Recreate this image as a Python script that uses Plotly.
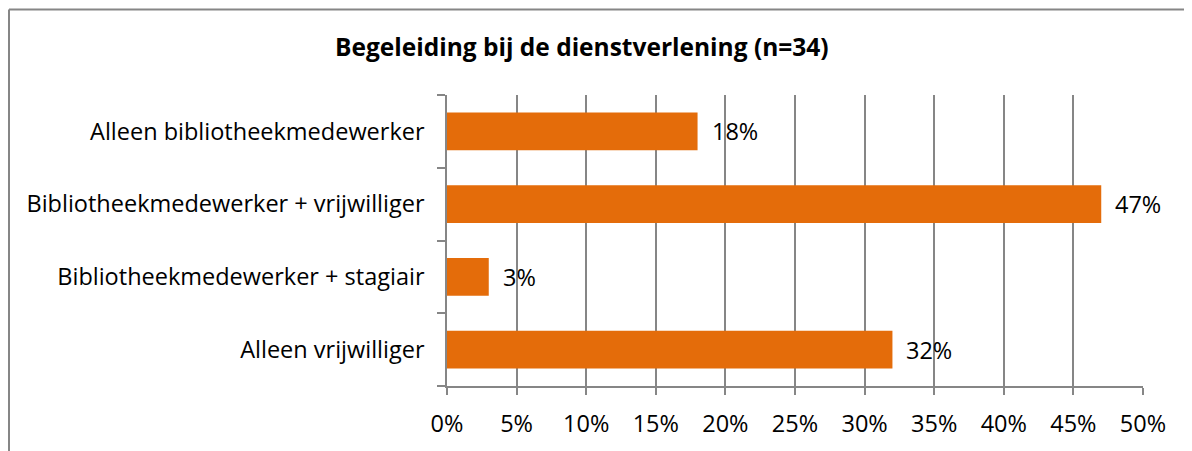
import plotly.graph_objects as go

categories = ["Alleen bibliotheekmedewerker", "Bibliotheekmedewerker + vrijwilliger",
              "Bibliotheekmedewerker + stagiair", "Alleen vrijwilliger"]
values = [18, 47, 3, 32]
labels = ["18%", "47%", "3%", "32%"]
title = "Begeleiding bij de dienstverlening (n=34)"
x_ticks = list(range(0, 51, 5))
x_tick_labels = [f"{t}%" for t in x_ticks]

OFF = 8  # page body margin
W, H = 1192 - OFF, 451 - OFF
L, T = 447 - OFF, 95 - OFF
R = W - (1143 - OFF)
B = H - (388 - OFF)
PW, PH = W - L - R, H - T - B

def px(x):
    return (x - OFF - L) / PW

def py(y):
    return (H - B - (y - OFF)) / PH

FONT = "'Open Sans', sans-serif"
GRID = "#868686"
FS = 23.5

fig = go.Figure(go.Bar(
    y=categories, x=values, orientation="h",
    marker=dict(color="#E46C0A", line=dict(width=0)),
    width=0.52, hoverinfo="skip",
))

for c, v, t in zip(categories, values, labels):
    fig.add_annotation(x=v, y=c, text=t, showarrow=False, xanchor="left",
                       xshift=12, font=dict(family=FONT, size=FS, color="#000"))

fig.add_annotation(x=px(582), y=py(46), xref="paper", yref="paper", text=f"<b>{title}</b>",
                   showarrow=False, xanchor="center", yanchor="middle",
                   font=dict(family=FONT, size=24.5, color="#000"))

# outer chart border (top and left visible)
fig.add_shape(type="line", xref="paper", yref="paper", x0=px(9), x1=px(1210), y0=py(9), y1=py(9),
              line=dict(color=GRID, width=2))
fig.add_shape(type="line", xref="paper", yref="paper", x0=px(9), x1=px(9), y0=py(9), y1=py(470),
              line=dict(color=GRID, width=2))

fig.update_layout(
    width=W, height=H, margin=dict(l=L, r=R, t=T, b=B),
    paper_bgcolor="white", plot_bgcolor="white", showlegend=False,
    xaxis=dict(range=[0, 50], tickvals=x_ticks, ticktext=x_tick_labels,
               showgrid=True, gridcolor=GRID, gridwidth=1.5,
               showline=True, linecolor=GRID, linewidth=1.5,
               ticks="outside", ticklen=7, tickcolor=GRID, tickwidth=1.5,
               tickfont=dict(family=FONT, size=FS, color="#000"),
               zeroline=False, fixedrange=True, ticklabelstandoff=9),
    yaxis=dict(categoryorder="array", categoryarray=categories[::-1],
               showline=True, linecolor=GRID, linewidth=1.5,
               ticks="outside", ticklen=8, tickcolor=GRID, tickwidth=1.5,
               tickson="boundaries", showgrid=False,
               tickfont=dict(family=FONT, size=FS, color="#000"),
               ticklabelstandoff=16, fixedrange=True),
)

fig.write_html("out.html", config={"displayModeBar": False})
